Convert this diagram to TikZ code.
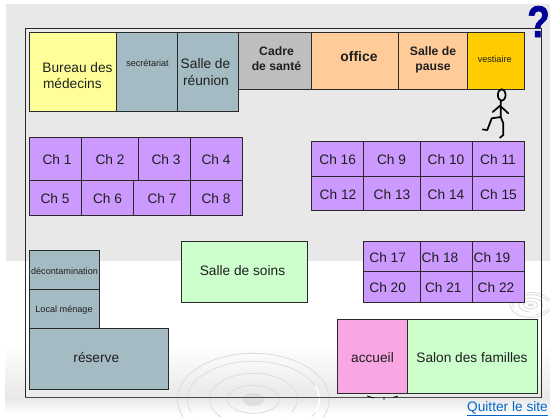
\documentclass[tikz,border=0pt]{standalone}
\usepackage{fontspec}
\setmainfont{Liberation Sans}
\newfontfamily\helpfont[FakeBold=1.5]{Liberation Sans Bold}
\definecolor{bggray}{HTML}{E8E8E8}
\definecolor{ringgray}{HTML}{DEDEDE}
\definecolor{cyellow}{HTML}{FFFF99}
\definecolor{cteal}{HTML}{A4BBC3}
\definecolor{cgray}{HTML}{BEBEBE}
\definecolor{corange}{HTML}{FFCC99}
\definecolor{cgold}{HTML}{FFCC00}
\definecolor{cpurple}{HTML}{CC99FF}
\definecolor{cgreen}{HTML}{CCFFCC}
\definecolor{cpink}{HTML}{F9A6E2}
\definecolor{clink}{HTML}{0066CC}
\definecolor{cquest}{HTML}{000099}
\definecolor{edge}{HTML}{2A2A2A}
\newcommand{\fs}[1]{\fontsize{#1}{#1}\selectfont}
\tikzset{
  room/.style={draw=edge,line width=0.9pt},
  lab/.style={anchor=base,inner sep=0pt,outer sep=0pt,text=black!88,font=\fs{13.7}},
  small/.style={lab,font=\fs{9.1}},
  boldlab/.style={lab,font=\fs{12.2}\bfseries},
  ring/.style={draw=ringgray,line width=0.9pt},
  whitering/.style={draw=white,line width=1.6pt},
  stick/.style={draw=black,line width=1.7pt,line cap=round,line join=round},
}
\newcommand{\swirl}[3]{%
  \begin{scope}[shift={(#1,#2)},scale=#3]
    \fill[ringgray] (0,0) ellipse (11 and 6.5);
    \draw[ring] (0,0) ellipse (26 and 14);
    \draw[ring] (0,0) ellipse (44 and 26);
    \draw[ring] (0,0) ellipse (76 and 46);
    \draw[ring] (0,0) ellipse (66 and 38);
    \draw[whitering] (0,0) ++(160:66 and 38) arc (160:75:66 and 38);
    \draw[whitering] (0,0) ++(20:66 and 38) arc (20:-20:66 and 38);
    \draw[whitering] (0,0) ++(100:44 and 26) arc (100:30:44 and 26);
  \end{scope}}
\begin{document}
\begin{tikzpicture}[x=1pt,y=-1pt]
\useasboundingbox (0,0) rectangle (550,416);
\clip (0,0) rectangle (550,416);
% page background
\fill[white] (0,0) rectangle (550,416);
\fill[bggray] (5.5,4) rectangle (550,261);
\shade[top color=white,bottom color=bggray] (5,345) rectangle (550,398);
\shade[top color=bggray,bottom color=white] (5,398) rectangle (550,414);
\swirl{253.3}{399.3}{1}
\swirl{530.7}{305}{0.27}
% frame
\draw[edge,line width=0.9pt] (25,28) rectangle (541.3,397.7);
\draw[black!70,line width=1pt] (25,397.7) -- (541.3,397.7);
\draw[black,line width=0.8pt] (367,396) -- (374,398) (384,397) -- (384,400) (393,397.5) -- (398,396);
% top row
\draw[room,fill=cyellow] (29.5,32.5) rectangle (116,111);
\draw[room,fill=cteal] (116,32.5) rectangle (177,111);
\draw[room,fill=cteal] (177,32.5) rectangle (238,111);
\draw[room,fill=cgray] (238,32.5) rectangle (311.3,89);
\draw[room,fill=corange] (311.3,32.5) rectangle (398.3,89);
\draw[room,fill=corange] (398.3,32.5) rectangle (467.7,89);
\draw[room,fill=cgold] (467.7,32.5) rectangle (524.3,89);
% left bedrooms
\draw[room,fill=cpurple] (29.5,137) rectangle (81.5,180.5);
\draw[room,fill=cpurple] (81.5,137) rectangle (138,180.5);
\draw[room,fill=cpurple] (138,137) rectangle (190,180.5);
\draw[room,fill=cpurple] (190,137) rectangle (242.5,180.5);
\draw[room,fill=cpurple] (29.5,180.5) rectangle (81.5,215.3);
\draw[room,fill=cpurple] (81.5,180.5) rectangle (133.7,215.3);
\draw[room,fill=cpurple] (133.7,180.5) rectangle (190,215.3);
\draw[room,fill=cpurple] (190,180.5) rectangle (242.5,215.3);
% right bedrooms
\foreach \xa/\xb in {311.3/363.7,363.7/420.3,420.3/472.3,472.3/524.3}{
  \draw[room,fill=cpurple] (\xa,141.5) rectangle (\xb,176);
  \draw[room,fill=cpurple] (\xa,176) rectangle (\xb,210.8);
}
\foreach \xa/\xb in {363.7/420.3,420.3/472.3,472.3/524.3}{
  \draw[room,fill=cpurple] (\xa,241.5) rectangle (\xb,271.7);
  \draw[room,fill=cpurple] (\xa,271.7) rectangle (\xb,302);
}
% other rooms
\draw[room,fill=cgreen] (181,241.5) rectangle (307.3,302);
\draw[room,fill=cteal] (29.5,250) rectangle (99,289);
\draw[room,fill=cteal] (29.5,289) rectangle (99,328);
\draw[room,fill=cteal] (29.5,328) rectangle (168.3,389.3);
\draw[room,fill=cpink] (337.5,319.5) rectangle (407,393.5);
\draw[room,fill=cgreen] (407,319.5) rectangle (537.3,393.5);
% labels
\node[lab] (bur1) at (77.5,72.3) {Bureau des};
\node[lab,anchor=base west] (bur2) at (43,88) {médecins};
\node[small] (secr) at (147.5,66.7) {secrétariat};
\node[lab] (sdr1) at (205.5,68.3) {Salle de};
\node[lab] (sdr2) at (206,85.3) {réunion};
\node[boldlab] (cad1) at (276.5,55.3) {Cadre};
\node[boldlab] (cad2) at (276.5,70.7) {de santé};
\node[boldlab,font=\fs{13.9}\bfseries] (off) at (359,61.7) {office};
\node[boldlab] (sdp1) at (433,55.3) {Salle de};
\node[boldlab] (sdp2) at (433,70.7) {pause};
\node[small] (vest) at (494.7,62) {vestiaire};
\foreach \n/\x/\y in {1/57/164,2/110/164,3/166/164,4/216/164,5/55/203,6/107.5/203,7/162/203,8/216/203,
  16/337.7/164,9/391.5/164,10/446/164,11/498/164,12/338/199,13/392/199,14/446/199,15/498.5/199,
  17/387.7/262.3,18/440/262.3,19/492/262.3,20/387.7/292.3,21/443.3/292.3,22/496/292.3}{
  \node[lab] (ch\n) at (\x,\y) {Ch \n};
}
\node[lab] (soins) at (242.5,275) {Salle de soins};
\node[small] (deco) at (64.5,274) {décontamination};
\node[small] (menage) at (64,312.7) {Local ménage};
\node[lab] (reserve) at (96.3,362) {réserve};
\node[lab] (accueil) at (372.5,362) {accueil};
\node[lab] (salon) at (472,362) {Salon des familles};
\node[lab,text=clink] (quit) at (507.5,411.7) {\underline{Quitter le site}};
% person
\draw[stick] (501.7,95) ellipse (3.8 and 5.8);
\draw[stick] (500.7,100.8) -- (500.7,117) (492.7,112) -- (500,105.7) -- (508.3,113.3);
\draw[stick] (500.7,117) -- (491.7,118.3) -- (487.3,130) -- (482.7,129.5);
\draw[stick] (500.7,117) -- (503.3,123.3) -- (503.3,135) -- (500,137.7);
% help mark
\node[anchor=base,inner sep=0pt,text=cquest] (help) at (538.5,37) {\helpfont\fs{37}\scalebox{1}[1.2]{?}};
\end{tikzpicture}
\end{document}
